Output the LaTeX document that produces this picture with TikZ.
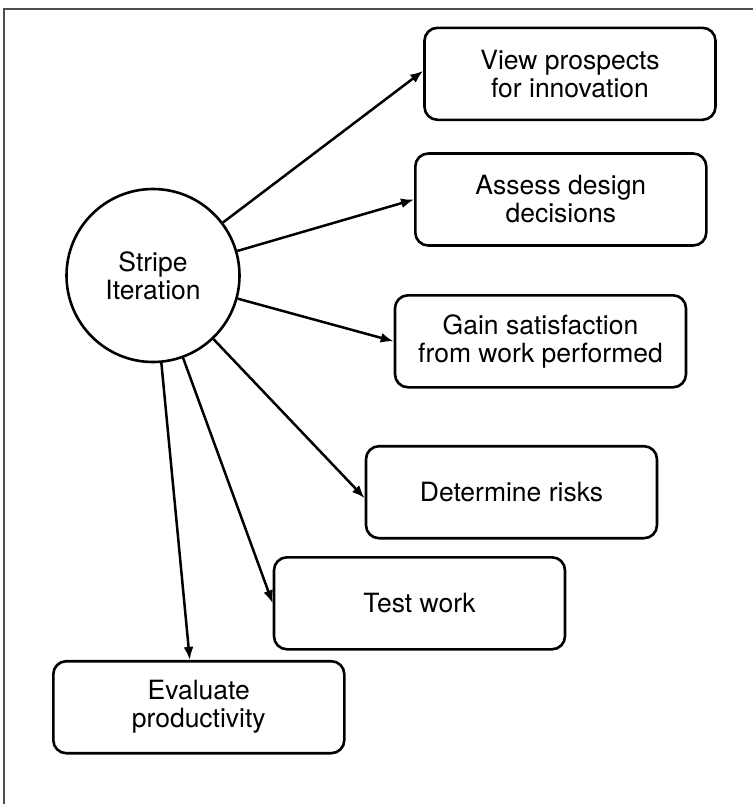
\documentclass[tikz,border=0pt]{standalone}
\usepackage{fontspec}
\setmainfont{TeX Gyre Heros}
\usetikzlibrary{arrows.meta,positioning}

\begin{document}
\begin{tikzpicture}[x=1pt,y=-1pt,>={Latex[length=13pt,width=10pt]},
	font=\fontsize{26.5}{28}\selectfont]
	\tikzstyle{box}=[draw,line width=2.6pt,rounded corners=13pt,minimum width=291pt,minimum height=92pt,inner sep=0pt,align=center]
	\tikzstyle{hub}=[draw,circle,line width=2.6pt,minimum size=173pt,inner sep=0pt,align=center]
	\tikzstyle{link}=[->,line width=2.5pt]
	\useasboundingbox (0,0) rectangle (753,804);
	\draw[black!70,line width=1.3pt] (753,9) -- (4,9) -- (4,804);
	\node[hub] (c) at (153,275.5) {Stripe\\Iteration};
	\node[box] (b1) at (570,73.8) {View prospects\\for innovation};
	\node[box] (b2) at (560.8,199.5) {Assess design\\decisions};
	\node[box] (b3) at (540.5,341.3) {Gain satisfaction\\from work performed};
	\node[box] (b4) at (511.5,492.2) {Determine risks};
	\node[box] (b5) at (419.5,603.3) {Test work};
	\node[box] (b6) at (198.8,707.2) {Evaluate\\productivity};
	\draw[link] (c) -- ([yshift=3pt]b1.west);
	\draw[link] (c) -- (b2.west);
	\draw[link] (c) -- (b3.west);
	\draw[link] (c) -- ([yshift=-6pt]b4.west);
	\draw[link] (c) -- (b5.west);
	\draw[link] (c) -- ([xshift=-9pt]b6.north);
\end{tikzpicture}
\end{document}
